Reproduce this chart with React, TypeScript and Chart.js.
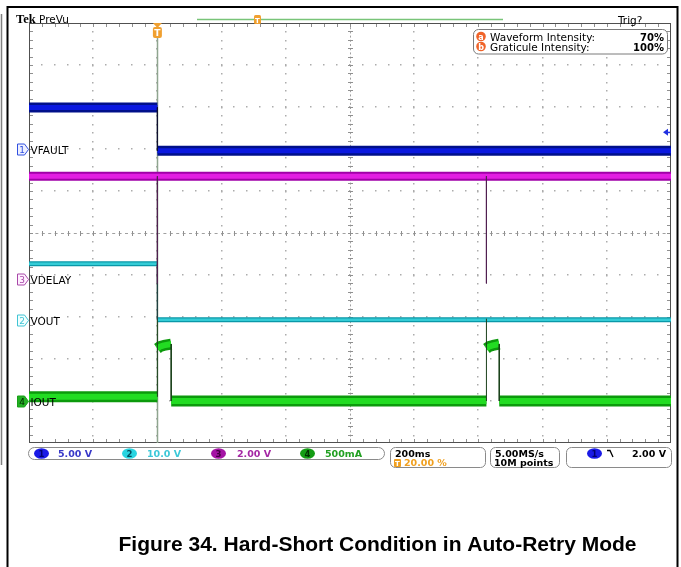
import React, { useEffect, useRef } from "react";
import { Chart, registerables } from "chart.js";

Chart.register(...registerables);

// ---- time axis: 200 ms/div, 10 divisions, trigger at 20 %
const timeMinMs = -400;
const timeMaxMs = 1600;
const timePerDivMs = 200;
const divMin = -5;
const divMax = 5;

// ---- channels
const channelNames = ["VFAULT", "VOUT", "VDELAY", "IOUT"];
const channelScales = [5, 10, 2, 0.5]; // per division
const channelScaleLabels = ["5.00 V", "10.0 V", "2.00 V", "500mA"];
const channelOffsetsDiv = [2.0, -2.07, -1.1, -4.0];

// CH1 VFAULT (V)
const ch1BandTimes = [-400, 0, 0, 0, 1600];
const ch1BandValues = [4.95, 4.95, null, -0.2, -0.2];
const ch1EdgeTimes = [0, 0];
const ch1EdgeValues = [4.95, -0.2];

// CH2 VOUT (V)
const ch2BandTimes = [-400, 0, 0, 0, 1600];
const ch2BandValues = [13.4, 13.4, null, 0.05, 0.05];
const ch2EdgeTimes = [0, 0];
const ch2EdgeValues = [13.4, 0.05];

// CH3 VDELAY (V)
const ch3BandTimes = [-400, 1600];
const ch3BandValues = [4.9, 4.9];
const ch3EdgeTimes = [0, 0, 0, 1025, 1025];
const ch3EdgeValues = [4.9, -0.2, null, 4.9, -0.2];

// CH4 IOUT (A)
const ch4BandTimes = [-400, 0, 0, 0, 8, 20, 43, 43, 43, 1025, 1025, 1025, 1033, 1045, 1065, 1065, 1065, 1600];
const ch4BandValues = [0.05, 0.05, null, 0.625, 0.648, 0.662, 0.678, null, 0.0, 0.0, null, 0.625, 0.648, 0.662, 0.678, null, 0.0, 0.0];
const ch4EdgeTimes = [0, 0, 0, 43, 43, 43, 1025, 1025, 1025, 1065, 1065];
const ch4EdgeValues = [0.05, 0.98, null, 0.678, 0.0, null, 0.0, 0.98, null, 0.678, 0.0];

// trigger / acquisition
const triggerLevelV = 2.0;
const triggerLevelLabel = "2.00 V";
const triggerPositionLabel = "20.00 %";
const timeScaleLabel = "200ms";
const sampleRateLabel = "5.00MS/s";
const recordLengthLabel = "10M points";
const waveformIntensity = "70%";
const graticuleIntensity = "100%";
const captionText = "Figure 34. Hard-Short Condition in Auto-Retry Mode";

const toDiv = (ch: number, v: number | null) =>
  v === null ? null : channelOffsetsDiv[ch] + v / channelScales[ch];

const pts = (ch: number, times: number[], values: (number | null)[]) =>
  times.map((t, i) => ({ x: t, y: toDiv(ch, values[i]) }));

const FONT = "'DejaVu Sans'";

function band(data: any, outer: string, inner: string, w: number, wi: number) {
  return [
    { data, borderColor: outer, borderWidth: w, order: 3, spanGaps: false, borderCapStyle: "butt", borderJoinStyle: "bevel" },
    { data, borderColor: inner, borderWidth: wi, order: 2, spanGaps: false, borderCapStyle: "butt", borderJoinStyle: "bevel" },
  ];
}
function edge(data: any, color: string) {
  return { data, borderColor: color, borderWidth: 1, order: 1, spanGaps: false };
}

function rr(ctx: CanvasRenderingContext2D, x: number, y: number, w: number, h: number, r: number) {
  ctx.beginPath();
  ctx.moveTo(x + r, y);
  ctx.lineTo(x + w - r, y);
  ctx.arcTo(x + w, y, x + w, y + r, r);
  ctx.lineTo(x + w, y + h - r);
  ctx.arcTo(x + w, y + h, x + w - r, y + h, r);
  ctx.lineTo(x + r, y + h);
  ctx.arcTo(x, y + h, x, y + h - r, r);
  ctx.lineTo(x, y + r);
  ctx.arcTo(x, y, x + r, y, r);
  ctx.closePath();
}

const graticulePlugin = {
  id: "graticule",
  beforeDatasetsDraw(chart: any) {
    const { ctx, chartArea: a, scales } = chart;
    const xs = scales.x, ys = scales.y;
    ctx.save();
    const nX = (timeMaxMs - timeMinMs) / timePerDivMs;
    const nY = divMax - divMin;
    // dotted division lines
    ctx.fillStyle = "#acacac";
    for (let i = 1; i < nX; i++) {
      if (i === nX / 2) continue;
      const px = Math.round(xs.getPixelForValue(timeMinMs + i * timePerDivMs));
      for (let j = 1; j < nY * 5; j++) {
        const py = Math.round(ys.getPixelForValue(divMin + j * 0.2));
        ctx.fillRect(px - 1, py, 1.5, 1.5);
      }
    }
    for (let j = 1; j < nY; j++) {
      if (divMin + j === 0) continue;
      const py = Math.round(ys.getPixelForValue(divMin + j));
      for (let i = 1; i < nX * 5; i++) {
        const px = Math.round(xs.getPixelForValue(timeMinMs + i * timePerDivMs / 5));
        ctx.fillRect(px - 1, py - 1, 1.5, 1.5);
      }
    }
    // center crosshair
    const cx = Math.round(xs.getPixelForValue((timeMinMs + timeMaxMs) / 2)) + 0.5;
    const cy = Math.round(ys.getPixelForValue(0)) + 0.5;
    ctx.strokeStyle = "#a0a0a0";
    ctx.lineWidth = 1;
    ctx.setLineDash([3, 3.4]);
    ctx.beginPath();
    ctx.moveTo(a.left, cy); ctx.lineTo(a.right, cy);
    ctx.stroke();
    ctx.setLineDash([2, 2.2]);
    ctx.beginPath();
    ctx.moveTo(cx, a.top); ctx.lineTo(cx, a.bottom);
    ctx.stroke();
    ctx.setLineDash([]);
    ctx.strokeStyle = "#909090";
    ctx.beginPath();
    for (let i = 1; i < nX * 5; i++) {
      const px = Math.round(xs.getPixelForValue(timeMinMs + i * timePerDivMs / 5)) + 0.5;
      ctx.moveTo(px, cy - 2.5); ctx.lineTo(px, cy + 2.5);
      ctx.moveTo(px, a.top); ctx.lineTo(px, a.top + 4);
      ctx.moveTo(px, a.bottom); ctx.lineTo(px, a.bottom - 4);
    }
    for (let j = 1; j < nY * 5; j++) {
      const py = Math.round(ys.getPixelForValue(divMin + j * 0.2)) + 0.5;
      ctx.moveTo(cx - 2.5, py); ctx.lineTo(cx + 2.5, py);
      ctx.moveTo(a.left, py); ctx.lineTo(a.left + 4, py);
      ctx.moveTo(a.right, py); ctx.lineTo(a.right - 4, py);
    }
    ctx.stroke();
    // border
    ctx.strokeStyle = "#505050";
    ctx.strokeRect(a.left + 0.5, a.top + 0.5, a.right - a.left - 1, a.bottom - a.top - 1);
    // trigger position line
    const tx = Math.round(xs.getPixelForValue(0)) + 0.5;
    ctx.strokeStyle = "#8fa58f";
    ctx.lineWidth = 1.5;
    ctx.beginPath();
    ctx.moveTo(tx, a.top + 12); ctx.lineTo(tx, a.bottom);
    ctx.stroke();
    ctx.restore();
  },
  afterDraw(chart: any) {
    const { ctx, chartArea: a, scales } = chart;
    const xs = scales.x, ys = scales.y;
    ctx.save();
    ctx.textBaseline = "alphabetic";

    // outer document frame
    ctx.strokeStyle = "#000";
    ctx.lineWidth = 2;
    ctx.beginPath();
    ctx.moveTo(7.5, 567); ctx.lineTo(7.5, 7); ctx.lineTo(677.5, 7); ctx.lineTo(677.5, 567);
    ctx.stroke();
    ctx.strokeStyle = "#808080";
    ctx.lineWidth = 1.5;
    ctx.beginPath();
    ctx.moveTo(1.5, 14); ctx.lineTo(1.5, 465);
    ctx.stroke();

    // header
    ctx.fillStyle = "#000";
    ctx.font = "bold 12.5px 'Liberation Serif'";
    ctx.textAlign = "left";
    ctx.fillText("Tek", 16, 23);
    ctx.font = `10.5px ${FONT}`;
    ctx.fillText("PreVu", 39, 22.5);
    ctx.fillText("Trig?", 618, 23.5);
    ctx.strokeStyle = "#78c478";
    ctx.lineWidth = 1.5;
    ctx.beginPath();
    ctx.moveTo(197, 19.5); ctx.lineTo(503, 19.5);
    ctx.stroke();
    // record view trigger marker
    ctx.fillStyle = "#f0a030";
    rr(ctx, 254, 15, 7, 9, 1.5); ctx.fill();
    ctx.fillStyle = "#fff";
    ctx.font = `bold 7px ${FONT}`;
    ctx.textAlign = "center";
    ctx.fillText("T", 257.5, 22.5);

    // trigger marker on the graticule
    const tx = xs.getPixelForValue(0);
    ctx.fillStyle = "#f0a030";
    ctx.beginPath();
    ctx.moveTo(tx - 4.5, a.top); ctx.lineTo(tx + 4.5, a.top); ctx.lineTo(tx, a.top + 5); ctx.closePath();
    ctx.fill();
    rr(ctx, tx - 4.5, a.top + 4, 9, 11, 2); ctx.fill();
    ctx.fillStyle = "#fff";
    ctx.font = `bold 9px ${FONT}`;
    ctx.fillText("T", tx, a.top + 13);

    // intensity box
    ctx.strokeStyle = "#7a7a7a";
    ctx.lineWidth = 1;
    rr(ctx, 473.5, 29.5, 194, 24.5, 5); ctx.fillStyle = "#fff"; ctx.fill(); ctx.stroke();
    const rows = [["a", "Waveform Intensity:", waveformIntensity, 36.5], ["b", "Graticule Intensity:", graticuleIntensity, 46.5]];
    for (const [ic, label, val, yc] of rows as any) {
      ctx.fillStyle = "#f0642a";
      ctx.beginPath(); ctx.arc(481, yc, 4.8, 0, Math.PI * 2); ctx.fill();
      ctx.fillStyle = "#fff";
      ctx.font = `bold 8px ${FONT}`;
      ctx.textAlign = "center";
      ctx.fillText(ic, 481, yc + 3);
      ctx.fillStyle = "#000";
      ctx.font = `10.5px ${FONT}`;
      ctx.textAlign = "left";
      ctx.fillText(label, 490, yc + 4);
      ctx.font = `bold 10px ${FONT}`;
      ctx.textAlign = "right";
      ctx.fillText(val, 664, yc + 4);
    }

    // trigger level arrow (CH1)
    const ty = ys.getPixelForValue(toDiv(0, triggerLevelV));
    ctx.fillStyle = "#2030e0";
    ctx.beginPath();
    ctx.moveTo(a.right - 8, ty); ctx.lineTo(a.right - 3, ty - 3.5); ctx.lineTo(a.right - 3, ty + 3.5); ctx.closePath();
    ctx.fill();
    ctx.fillRect(a.right - 4, ty - 0.5, 3, 1.5);

    // channel ground markers and labels
    const markerStyle = [
      { stroke: "#3050e0", fill: "#eef0ff", text: "#3050e0", num: "1" },
      { stroke: "#40c4d4", fill: "#f0ffff", text: "#40c4d4", num: "2" },
      { stroke: "#a848a8", fill: "#fff0ff", text: "#a848a8", num: "3" },
      { stroke: "#18a018", fill: "#22b022", text: "#002200", num: "4" },
    ];
    for (let ch = 0; ch < 4; ch++) {
      const yc = Math.round(ys.getPixelForValue(channelOffsetsDiv[ch])) + 0.5;
      const m = markerStyle[ch];
      const x0 = 17.5;
      ctx.beginPath();
      ctx.moveTo(x0, yc - 5.5); ctx.lineTo(x0 + 7, yc - 5.5); ctx.lineTo(x0 + 11, yc); ctx.lineTo(x0 + 7, yc + 5.5); ctx.lineTo(x0, yc + 5.5); ctx.closePath();
      ctx.fillStyle = m.fill; ctx.fill();
      ctx.strokeStyle = m.stroke; ctx.lineWidth = 1; ctx.stroke();
      ctx.fillStyle = m.text;
      ctx.font = `9px ${FONT}`;
      ctx.textAlign = "center";
      ctx.fillText(m.num, x0 + 4.5, yc + 3.5);
      ctx.fillStyle = "#000";
      ctx.font = `10.5px ${FONT}`;
      ctx.textAlign = "left";
      ctx.fillText(channelNames[ch], 30.5, yc + 4.5);
    }

    // status bar
    ctx.strokeStyle = "#8a8a8a";
    ctx.lineWidth = 1;
    rr(ctx, 28.5, 447.5, 356, 12, 6); ctx.stroke();
    rr(ctx, 390.5, 447.5, 95, 20, 5); ctx.stroke();
    rr(ctx, 490.5, 447.5, 69, 20, 5); ctx.stroke();
    rr(ctx, 566.5, 447.5, 105, 20, 5); ctx.stroke();
    const chip = [
      { cx: 41.5, tx: 58, fill: "#1a1ae6", num: "#000070", col: "#3838c8" },
      { cx: 129.5, tx: 147, fill: "#28d4e0", num: "#005060", col: "#3cc8d8" },
      { cx: 218.5, tx: 237, fill: "#a414a4", num: "#400040", col: "#a428a4" },
      { cx: 307.5, tx: 325, fill: "#149c14", num: "#003000", col: "#22a022" },
    ];
    for (let ch = 0; ch < 4; ch++) {
      const c = chip[ch];
      ctx.fillStyle = c.fill;
      ctx.beginPath(); ctx.ellipse(c.cx, 453.5, 7.5, 5.2, 0, 0, Math.PI * 2); ctx.fill();
      ctx.fillStyle = c.num;
      ctx.font = `bold 8.5px ${FONT}`;
      ctx.textAlign = "center";
      ctx.fillText(String(ch + 1), c.cx, 456.8);
      ctx.fillStyle = c.col;
      ctx.font = `bold 9.5px ${FONT}`;
      ctx.textAlign = "left";
      ctx.fillText(channelScaleLabels[ch], c.tx, 457);
    }
    ctx.fillStyle = "#000";
    ctx.font = `bold 9.5px ${FONT}`;
    ctx.textAlign = "left";
    ctx.fillText(timeScaleLabel, 395, 456.5);
    ctx.fillStyle = "#f0a020";
    rr(ctx, 394, 459, 7, 8, 1); ctx.fill();
    ctx.fillStyle = "#fff";
    ctx.font = `bold 7px ${FONT}`;
    ctx.textAlign = "center";
    ctx.fillText("T", 397.5, 465.5);
    ctx.fillStyle = "#f0a020";
    ctx.font = `bold 9.5px ${FONT}`;
    ctx.textAlign = "left";
    ctx.fillText(triggerPositionLabel, 404, 466);
    ctx.fillStyle = "#000";
    ctx.fillText(sampleRateLabel, 495, 456.5);
    ctx.fillText(recordLengthLabel, 494, 466);
    // trigger source chip
    ctx.fillStyle = "#1a1ae6";
    ctx.beginPath(); ctx.ellipse(594.5, 453.5, 7.5, 5.2, 0, 0, Math.PI * 2); ctx.fill();
    ctx.fillStyle = "#000070";
    ctx.font = `bold 8.5px ${FONT}`;
    ctx.textAlign = "center";
    ctx.fillText("1", 594.5, 456.8);
    ctx.strokeStyle = "#000";
    ctx.lineWidth = 1.3;
    ctx.beginPath();
    ctx.moveTo(607, 450.5); ctx.lineTo(610, 450.5); ctx.lineTo(613, 457);
    ctx.stroke();
    ctx.fillStyle = "#000";
    ctx.font = `bold 9.5px ${FONT}`;
    ctx.textAlign = "right";
    ctx.fillText(triggerLevelLabel, 666, 457);

    // caption
    ctx.font = "bold 21px 'Liberation Sans'";
    ctx.textAlign = "center";
    ctx.fillText(captionText, 377.5, 551);
    ctx.restore();
  },
};

export default function App() {
  const ref = useRef<HTMLCanvasElement | null>(null);
  useEffect(() => {
    if (!ref.current) return;
    const datasets: any[] = [
      ...band(pts(0, ch1BandTimes, ch1BandValues), "#00108a", "#0a18e0", 10, 5),
      edge(pts(0, ch1EdgeTimes, ch1EdgeValues), "#101030"),
      ...band(pts(2, ch3BandTimes, ch3BandValues), "#a000a8", "#e21ee2", 9, 5),
      edge(pts(2, ch3EdgeTimes, ch3EdgeValues), "#502050"),
      ...band(pts(1, ch2BandTimes, ch2BandValues), "#0a98a8", "#34ccd6", 5, 2.5),
      edge(pts(1, ch2EdgeTimes, ch2EdgeValues), "#204040"),
      ...band(pts(3, ch4BandTimes, ch4BandValues), "#0c9a0c", "#22dc22", 11, 6),
      edge(pts(3, ch4EdgeTimes, ch4EdgeValues), "#1a401a"),
    ];
    const chart = new Chart(ref.current, {
      type: "line",
      data: { datasets },
      options: {
        responsive: false,
        maintainAspectRatio: false,
        animation: false,
        events: [],
        layout: { padding: { left: 29, top: 23, right: 10, bottom: 124 } },
        elements: { point: { radius: 0 }, line: { tension: 0 } },
        scales: {
          x: { type: "linear", min: timeMinMs, max: timeMaxMs, display: false },
          y: { type: "linear", min: divMin, max: divMax, display: false },
        },
        plugins: { legend: { display: false }, tooltip: { enabled: false }, title: { display: false } },
      },
      plugins: [graticulePlugin],
    } as any);
    return () => chart.destroy();
  }, []);
  return (
    <div style={{ position: "absolute", left: 0, top: 0, width: 681, height: 567, background: "#fff" }}>
      <canvas ref={ref} width={681} height={567} style={{ display: "block" }} />
    </div>
  );
}
